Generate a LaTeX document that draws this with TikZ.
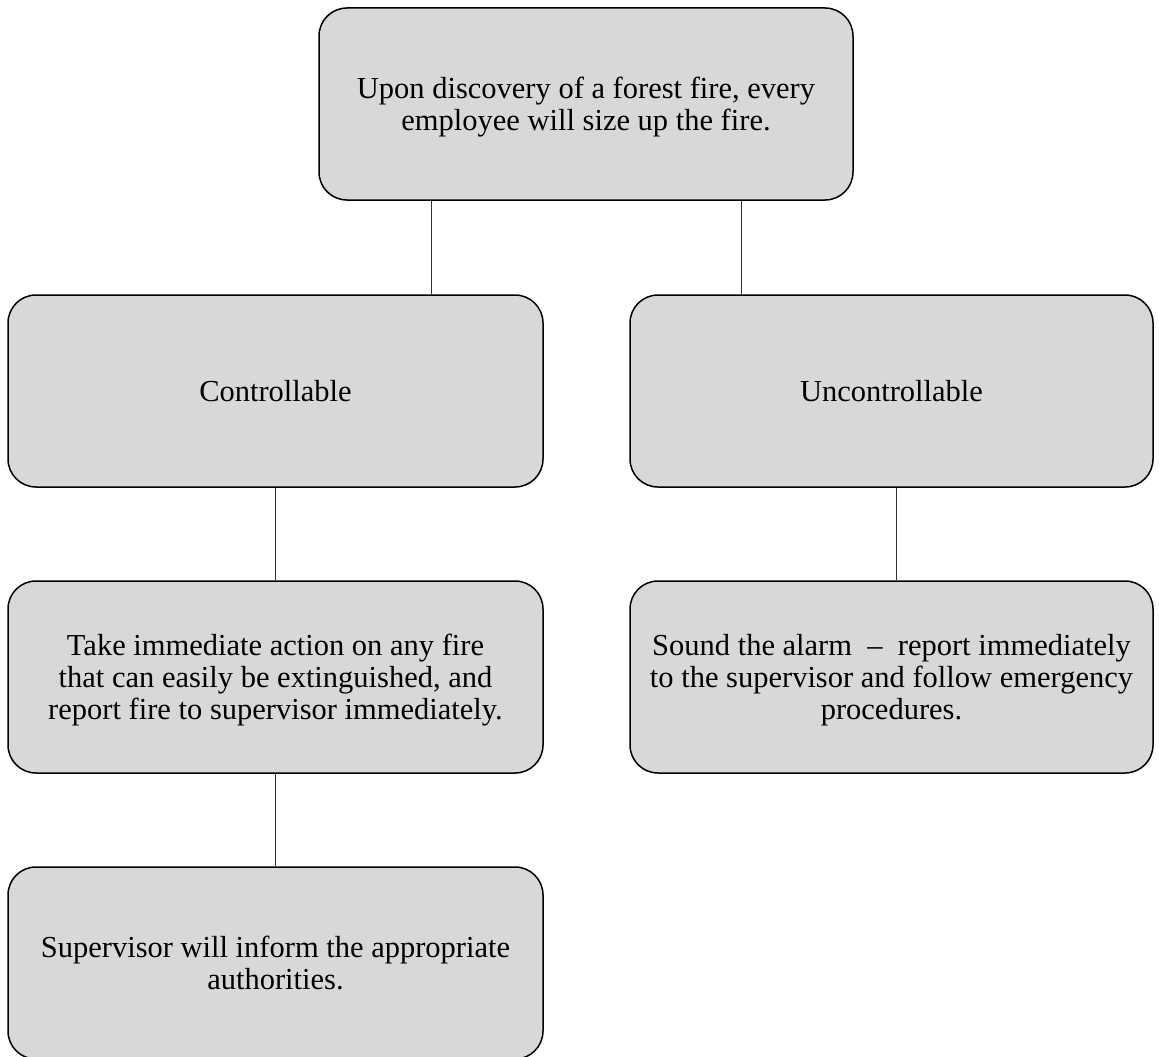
\documentclass[tikz,border=0pt]{standalone}
\usepackage{fontspec}
\setmainfont{Liberation Serif}
\definecolor{boxfill}{HTML}{D8D8D8}
\definecolor{linkcol}{HTML}{303030}
\begin{document}
\begin{tikzpicture}[x=1pt,y=-1pt,
  flowbox/.style={draw=black, line width=1.5pt, fill=boxfill, rounded corners=28pt,
    inner sep=0pt, align=center, text depth=0pt, font=\fontsize{30.5}{32}\selectfont},
  link/.style={draw=linkcol, line width=1pt}]
\useasboundingbox (0,0) rectangle (1159,1057);
\node[flowbox, minimum width=534pt, minimum height=192pt] (top) at (586,104)
  {Upon discovery of a forest fire, every\\employee will size up the fire.};
\node[flowbox, minimum width=535pt, minimum height=192pt] (ctrl) at (275.5,391)
  {Controllable};
\node[flowbox, minimum width=523pt, minimum height=192pt] (unc) at (891.5,391)
  {Uncontrollable};
\node[flowbox, minimum width=535pt, minimum height=192pt] (take) at (275.5,677)
  {Take immediate action on any fire\\that can easily be extinguished, and\\report fire to supervisor immediately.};
\node[flowbox, minimum width=523pt, minimum height=192pt] (sound) at (891.5,677)
  {Sound the alarm \ -- \ report immediately\\to the supervisor and follow emergency\\procedures.};
\node[flowbox, minimum width=535pt, minimum height=192pt] (sup) at (275.5,963)
  {Supervisor will inform the appropriate\\authorities.};
\draw[link] ([xshift=-155pt]top.south) -- ([xshift=155.5pt]ctrl.north);
\draw[link] ([xshift=155pt]top.south) -- ([xshift=-150.5pt]unc.north);
\draw[link] (ctrl.south) -- (take.north);
\draw[link] ([xshift=5pt]unc.south) -- ([xshift=5pt]sound.north);
\draw[link] (take.south) -- (sup.north);
\end{tikzpicture}
\end{document}
